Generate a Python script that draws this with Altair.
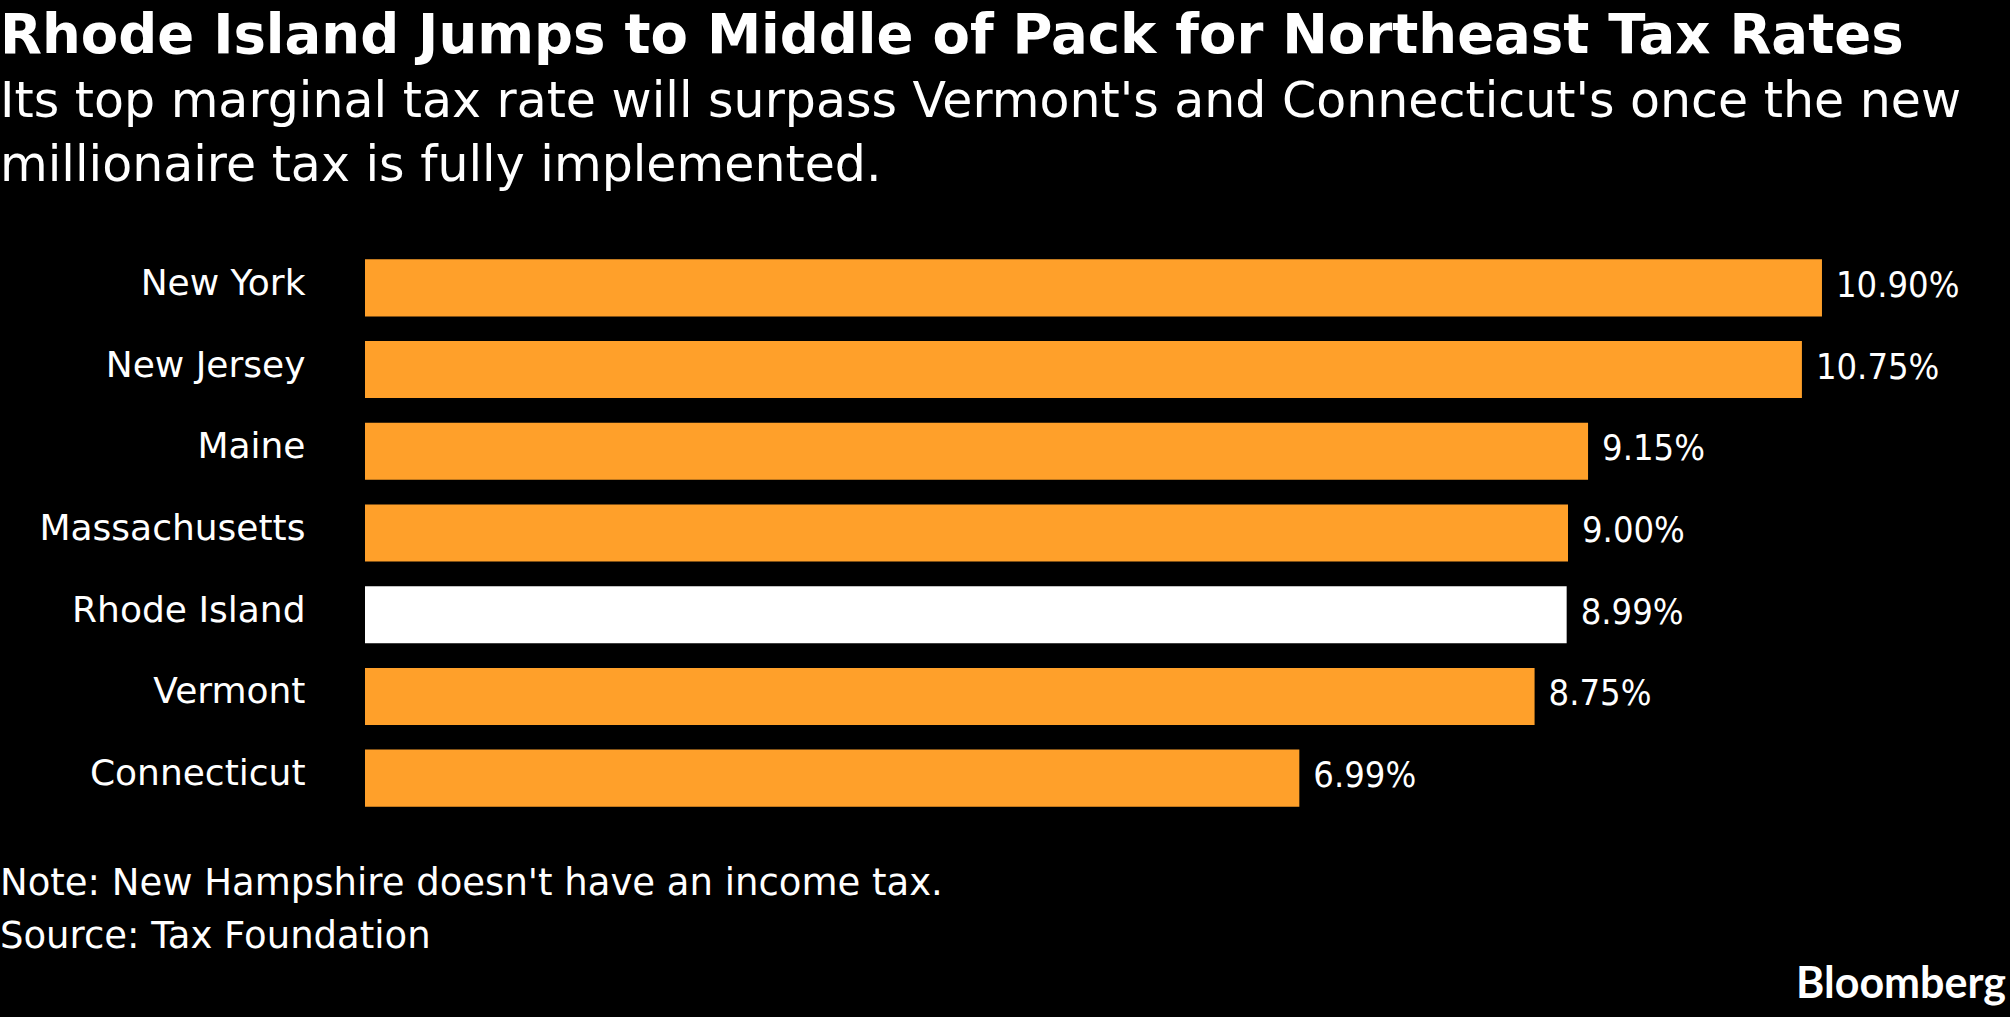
import altair as alt
import pandas as pd

states = ["New York", "New Jersey", "Maine", "Massachusetts", "Rhode Island", "Vermont", "Connecticut"]
rates = [10.90, 10.75, 9.15, 9.00, 8.99, 8.75, 6.99]
highlight = ["other", "other", "other", "other", "Rhode Island", "other", "other"]

title_text = "Rhode Island Jumps to Middle of Pack for Northeast Tax Rates"
subtitle_lines = [
    "Its top marginal tax rate will surpass Vermont's and Connecticut's once the new",
    "millionaire tax is fully implemented.",
]
footer_lines = ["Note: New Hampshire doesn't have an income tax.", "Source: Tax Foundation"]
footer_rows = [0, 1]
brand = ["Bloomberg"]

df = pd.DataFrame({"state": states, "rate": rates, "group": highlight})
notes = pd.DataFrame({"line": footer_lines, "row": footer_rows})
logo = pd.DataFrame({"name": brand})

LEFT = 365
TOP = 247
W = 1604
H = 572

y_enc = alt.Y(
    "state:N",
    sort=states,
    scale=alt.Scale(paddingInner=0.302, paddingOuter=0.151),
    axis=alt.Axis(
        title=None, ticks=False, domain=False, labelPadding=60, labelOffset=-4,
        labelFont="DejaVu Sans", labelFontSize=36, labelColor="white",
        labelLimit=400,
    ),
)
x_enc = alt.X("rate:Q", scale=alt.Scale(domain=[0, 12]), axis=None)

bars = alt.Chart(df).mark_bar().encode(
    y=y_enc,
    x=x_enc,
    color=alt.Color(
        "group:N",
        scale=alt.Scale(domain=["other", "Rhode Island"], range=["#FFA02A", "#FFFFFF"]),
        legend=None,
    ),
)

labels = alt.Chart(df).transform_calculate(
    label="format(datum.rate, '.2f') + '%'"
).mark_text(
    align="left", baseline="middle", dx=14, dy=-2,
    font="DejaVu Sans Condensed", fontSize=36, color="white",
).encode(y=alt.Y("state:N", sort=states), x="rate:Q", text="label:N")

footer0 = alt.Chart(notes).transform_filter("datum.row == 0").mark_text(
    align="left", baseline="alphabetic", font="DejaVu Sans", fontSize=37, color="white",
).encode(x=alt.value(-LEFT), y=alt.value(895 - TOP), text="line:N")

footer1 = alt.Chart(notes).transform_filter("datum.row == 1").mark_text(
    align="left", baseline="alphabetic", font="DejaVu Sans", fontSize=37, color="white",
).encode(x=alt.value(-LEFT), y=alt.value(948 - TOP), text="line:N")

brand_mark = alt.Chart(logo).mark_text(
    align="right", baseline="alphabetic", font="Lato", fontWeight="bold", fontSize=43, color="white",
).encode(x=alt.value(2006 - LEFT), y=alt.value(998 - TOP), text="name:N")

chart = alt.layer(bars, labels, footer0, footer1, brand_mark).properties(
    width=W,
    height=H,
    padding={"left": LEFT, "top": TOP, "right": 2010 - LEFT - W, "bottom": 1017 - TOP - H},
    autosize=alt.AutoSizeParams(type="none"),
    title=alt.Title(
        text=title_text,
        subtitle=subtitle_lines,
        anchor="start",
        frame="group",
        dx=-LEFT,
        offset=55,
        font="DejaVu Sans",
        fontSize=54.5,
        fontWeight="bold",
        color="white",
        subtitleFont="DejaVu Sans",
        subtitleFontSize=49,
        subtitleColor="white",
        subtitleLineHeight=64,
        subtitlePadding=14,
    ),
).configure(background="black").configure_view(stroke=None)

chart.save("out.html", embed_options={"renderer": "svg", "actions": False})
